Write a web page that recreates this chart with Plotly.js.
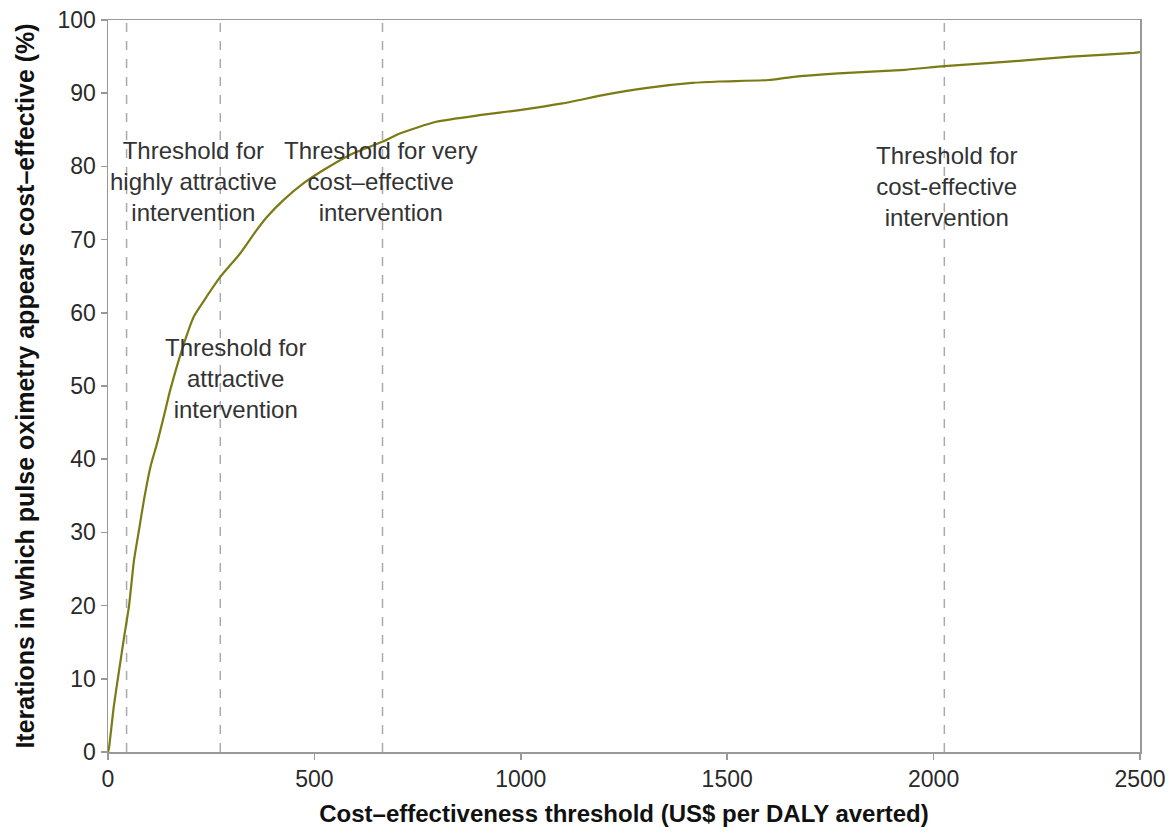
<!DOCTYPE html>
<html>
<head>
<meta charset="utf-8">
<script src="https://cdn.plot.ly/plotly-3.0.1.min.js"></script>
<style>html,body{margin:0;padding:0;background:#fff;}#chart{width:1175px;height:832px;}</style>
</head>
<body>
<div id="chart"></div>
<script>
// Cost-effectiveness threshold (US$ per DALY averted)
const thresholdX = [0, 2, 14, 27, 39, 51, 63, 75, 87, 103, 119, 135, 151, 184, 208, 233, 272, 320, 360, 385, 425, 474, 522, 587, 666, 707, 795, 900, 997, 1101, 1205, 1302, 1415, 1480, 1600, 1656, 1769, 1931, 2026, 2181, 2333, 2485, 2500];
// Iterations in which pulse oximetry appears cost-effective (%)
const pctCostEffective = [0, 0.4, 6.2, 11.2, 15.7, 20, 26.2, 30.3, 34.4, 39, 42.2, 45.8, 49.5, 55.8, 59.5, 61.7, 64.9, 68.1, 71.3, 73.1, 75.4, 77.7, 79.5, 81.6, 83.4, 84.5, 86.1, 87.0, 87.7, 88.6, 89.8, 90.7, 91.4, 91.6, 91.8, 92.2, 92.7, 93.2, 93.7, 94.3, 95.0, 95.5, 95.6];

// Reference threshold lines
const refLineX = [45, 272, 665, 2026];

// Labels
const labelText = [
  "Threshold for<br>highly attractive<br>intervention",
  "Threshold for<br>attractive<br>intervention",
  "Threshold for very<br>cost–effective<br>intervention",
  "Threshold for<br>cost-effective<br>intervention"
];
const labelX = [206, 310, 659, 2032];
const labelY = [78, 51, 78, 77.3];

const xTicks = [0, 500, 1000, 1500, 2000, 2500];
const yTicks = [0, 10, 20, 30, 40, 50, 60, 70, 80, 90, 100];

const FONT = "'Liberation Sans', Arial, Helvetica, sans-serif";

const traces = [{
  x: thresholdX,
  y: pctCostEffective,
  type: 'scatter',
  mode: 'lines',
  line: {color: '#7b7a14', width: 2.2, shape: 'spline', smoothing: 0.5},
  hoverinfo: 'x+y',
  showlegend: false
}];

const shapes = refLineX.map(v => ({
  type: 'line', xref: 'x', yref: 'y', x0: v, x1: v, y0: 0, y1: 100,
  line: {color: '#aaaaaa', width: 1.5, dash: 'dash'}, layer: 'below'
}));

const annotations = labelText.map((t, i) => ({
  x: labelX[i], y: labelY[i], xref: 'x', yref: 'y', text: t, showarrow: false,
  font: {family: FONT, size: 24, color: '#333333'},
  align: 'center', xanchor: 'center', yanchor: 'middle'
}));

const layout = {
  width: 1175, height: 832,
  margin: {l: 108, r: 35, t: 20, b: 80},
  paper_bgcolor: '#ffffff', plot_bgcolor: '#ffffff',
  font: {family: FONT, color: '#222222', size: 23},
  xaxis: {
    range: [0, 2500], tickvals: xTicks, ticktext: xTicks.map(String),
    showgrid: false, zeroline: false, showline: true, linecolor: '#999999', linewidth: 1.5,
    mirror: true, ticks: 'outside', ticklen: 6, tickcolor: '#999999', tickwidth: 1.5,
    tickfont: {family: FONT, size: 23, color: '#2a2a2a'},
    title: {text: '<b>Cost–effectiveness threshold (US$ per DALY averted)</b>', font: {family: FONT, size: 24, color: '#111111'}, standoff: 14}
  },
  yaxis: {
    range: [0, 100], tickvals: yTicks, ticktext: yTicks.map(String),
    showgrid: false, zeroline: false, showline: true, linecolor: '#999999', linewidth: 1.5,
    mirror: true, ticks: 'outside', ticklen: 6, tickcolor: '#999999', tickwidth: 1.5,
    tickfont: {family: FONT, size: 23, color: '#2a2a2a'},
    title: {text: '<b>Iterations in which pulse oximetry appears cost–effective (%)</b>', font: {family: FONT, size: 25, color: '#111111'}, standoff: 16}
  },
  shapes: shapes,
  annotations: annotations
};

Plotly.newPlot('chart', traces, layout, {displayModeBar: false, staticPlot: true});
</script>
</body>
</html>
